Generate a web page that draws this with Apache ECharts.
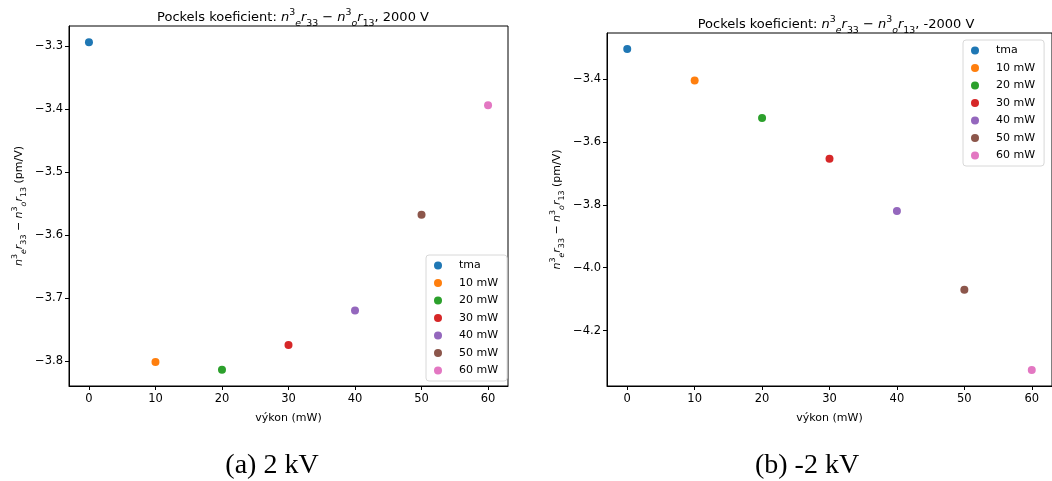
<!DOCTYPE html>
<html><head><meta charset="utf-8">
<script src="https://cdn.jsdelivr.net/npm/echarts@6/dist/echarts.min.js"></script>
<style>html,body{margin:0;padding:0;background:#fff}#c{width:1052px;height:481px}</style>
</head><body><div id="c"></div>
<script>
const categories = ['tma','10 mW','20 mW','30 mW','40 mW','50 mW','60 mW'];
const powers = [0,10,20,30,40,50,60];
const valuesPlus = [-3.294,-3.802,-3.814,-3.775,-3.720,-3.568,-3.394];
const valuesMinus = [-3.305,-3.405,-3.524,-3.654,-3.820,-4.070,-4.325];
const xTicks = [0,10,20,30,40,50,60];
const yTicksPlus = [-3.8,-3.7,-3.6,-3.5,-3.4,-3.3];
const yTicksMinus = [-4.2,-4.0,-3.8,-3.6,-3.4];
const colors = ['#1f77b4','#ff7f0e','#2ca02c','#d62728','#9467bd','#8c564b','#e377c2'];

const FONT = 'DejaVu Sans';
function richOf(size, lh){
  const s = Math.round(size*0.72*10)/10;
  const base = {fontFamily:FONT,fontWeight:'normal',color:'#000'};
  return {
    t:Object.assign({fontSize:size,lineHeight:lh},base),
    i:Object.assign({fontSize:size,lineHeight:lh,fontStyle:'italic'},base),
    sp:Object.assign({fontSize:s,lineHeight:Math.round(lh*0.62),verticalAlign:'top'},base),
    sb:Object.assign({fontSize:s,lineHeight:Math.round(lh*0.62),verticalAlign:'bottom'},base),
    sbi:Object.assign({fontSize:s,lineHeight:Math.round(lh*0.62),verticalAlign:'bottom',fontStyle:'italic'},base)
  };
}
const formula = '{i|n}{sp|3}{sbi|e}{i|r}{sb|33}{t| − }{i|n}{sp|3}{sbi|o}{i|r}{sb|13}';
const fmt = v => (v<0?'−':'') + Math.abs(v).toFixed(1);

function axisPair(gi, yTicks, ymin, ymax){
  const common = {
    gridIndex: gi,
    axisLine:{show:true,onZero:false,lineStyle:{color:'#000',width:1}},
    axisTick:{show:true,length:4,lineStyle:{color:'#000'}},
    splitLine:{show:false},
    axisLabel:{color:'#000',fontFamily:FONT,fontSize:11.5,formatter:fmt}
  };
  return {
    x: Object.assign({}, common, {type:'value',min:-3,max:63,
      axisTick:Object.assign({},common.axisTick,{customValues:xTicks}),
      axisLabel:Object.assign({},common.axisLabel,{customValues:xTicks,formatter:v=>String(v),margin:7}),
      name:'výkon (mW)',nameLocation:'middle',nameGap:27,
      nameTextStyle:{fontFamily:FONT,fontSize:11,color:'#000'}}),
    y: Object.assign({}, common, {type:'value',min:ymin,max:ymax,
      axisTick:Object.assign({},common.axisTick,{customValues:yTicks}),
      axisLabel:Object.assign({},common.axisLabel,{customValues:yTicks,margin:6}),
      name:formula+'{t| (pm/V)}',nameLocation:'middle',nameRotate:90,nameGap:41,
      nameTextStyle:{rich:richOf(11,17)}})
  };
}
const a0 = axisPair(0, yTicksPlus, -3.840, -3.268);
const a1 = axisPair(1, yTicksMinus, -4.376, -3.254);

const series = [];
categories.forEach((c,k)=>{
  series.push({type:'scatter',name:c,xAxisIndex:0,yAxisIndex:0,symbolSize:8,
    itemStyle:{color:colors[k],opacity:1},data:[[powers[k],valuesPlus[k]]]});
  series.push({type:'scatter',name:c,xAxisIndex:1,yAxisIndex:1,symbolSize:8,
    itemStyle:{color:colors[k],opacity:1},data:[[powers[k],valuesMinus[k]]]});
});

function legend(left, top){
  return {orient:'vertical',left:left,top:top,data:categories,icon:'circle',
    itemWidth:16,itemHeight:8,itemGap:6.5,padding:[5,9,5,8],
    borderColor:'#d8d8d8',borderWidth:1,borderRadius:3,backgroundColor:'rgba(255,255,255,0.8)',
    textStyle:{fontFamily:FONT,fontSize:11,color:'#000',padding:[0,0,0,8]},
    selectedMode:false};
}

const option = {
  backgroundColor:'#fff',
  animation:false,
  title:[
    {text:'{t|Pockels koeficient: }'+formula+'{t|, 2000 V}',left:288,top:3,textAlign:'center',
     textStyle:{fontWeight:'normal',rich:richOf(13,20)}},
    {text:'{t|Pockels koeficient: }'+formula+'{t|, -2000 V}',left:831,top:10,textAlign:'center',
     textStyle:{fontWeight:'normal',rich:richOf(13,20)}},
    {text:'(a) 2 kV',left:267,top:447,textAlign:'center',textStyle:{fontFamily:'Liberation Serif',fontSize:28,fontWeight:'normal',color:'#000'}},
    {text:'(b) -2 kV',left:802,top:447,textAlign:'center',textStyle:{fontFamily:'Liberation Serif',fontSize:28,fontWeight:'normal',color:'#000'}}
  ],
  grid:[
    {left:69,right:544,top:26,bottom:95,show:true,borderColor:'#000',borderWidth:1,backgroundColor:'transparent'},
    {left:607,right:-3,top:33,bottom:95,show:true,borderColor:'#000',borderWidth:1,backgroundColor:'transparent'}
  ],
  xAxis:[a0.x,a1.x],
  yAxis:[a0.y,a1.y],
  legend:[legend(426,255),legend(963,40)],
  series:series
};
echarts.init(document.getElementById('c'),null,{renderer:'canvas'}).setOption(option);
</script></body></html>
